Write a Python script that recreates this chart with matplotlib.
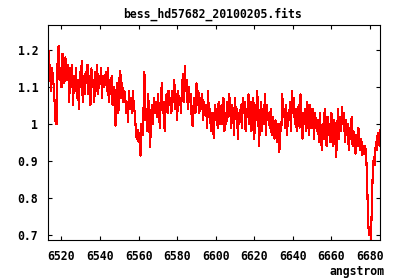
import numpy as np
import matplotlib
matplotlib.use("Agg")
import matplotlib.pyplot as plt

# spectrum as in the fits header: start wavelength + step, flux values
crval1 = 6513.0
cdelt1 = 0.5
flux = [
    # 6513 - 6522.5
    1.25, 1.14, 1.16, 1.09, 1.15, 1.13, 1.10, 1.05, 1.00, 1.00,
    1.18, 1.21, 1.12, 1.15, 1.10, 1.19, 1.17, 1.11, 1.18, 1.14,
    # 6523 - 6532.5
    1.12, 1.16, 1.06, 1.15, 1.10, 1.16, 1.05, 1.13, 1.09, 1.15,
    1.07, 1.12, 1.04, 1.14, 1.10, 1.17, 1.06, 1.13, 1.08, 1.14,
    # 6533 - 6542.5
    1.11, 1.16, 1.08, 1.13, 1.05, 1.15, 1.10, 1.12, 1.06, 1.14,
    1.09, 1.16, 1.08, 1.13, 1.11, 1.15, 1.07, 1.13, 1.10, 1.12,
    # 6543 - 6552.5
    1.14, 1.09, 1.15, 1.06, 1.12, 1.08, 1.13, 1.05, 1.10, 1.07,
    0.995, 1.09, 1.11, 1.03, 1.12, 1.144, 1.07, 1.11, 1.06, 1.09,
    # 6553 - 6562.5
    1.08, 1.03, 1.06, 1.004, 1.09, 1.04, 1.07, 1.03, 1.09, 1.05,
    1.03, 0.99, 0.96, 0.985, 0.95, 0.975, 0.914, 1.00, 0.97, 1.03,
    # 6563 - 6572.5
    1.14, 1.01, 1.04, 0.98, 1.08, 1.00, 0.937, 1.03, 1.05, 1.00,
    1.07, 1.03, 1.06, 1.02, 1.08, 1.04, 0.99, 1.06, 1.11, 1.03,
    # 6573 - 6582.5
    1.06, 0.98, 1.05, 1.08, 1.03, 1.09, 1.05, 1.07, 1.03, 1.09,
    1.06, 1.12, 1.04, 1.08, 1.01, 1.09, 1.05, 1.07, 1.03, 1.10,
    # 6583 - 6592.5
    1.135, 1.06, 1.157, 1.09, 1.12, 1.04, 1.10, 1.06, 1.08, 1.02,
    0.995, 1.05, 1.07, 1.03, 1.11, 1.05, 1.09, 1.03, 1.07, 1.04,
    # 6593 - 6602.5
    1.08, 1.01, 1.06, 1.03, 1.05, 0.99, 1.09, 1.02, 1.04, 0.98,
    1.03, 1.00, 0.963, 1.05, 1.01, 1.04, 0.99, 1.06, 1.00, 1.03,
    # 6603 - 6612.5
    1.05, 1.00, 1.07, 0.98, 1.03, 1.00, 1.06, 1.02, 1.08, 1.04,
    0.99, 1.05, 1.03, 0.97, 1.07, 1.02, 1.04, 0.96, 1.03, 1.01,
    # 6613 - 6622.5
    1.05, 0.99, 1.07, 1.03, 1.06, 0.98, 1.04, 1.02, 1.08, 1.00,
    1.06, 0.98, 1.03, 1.07, 0.96, 1.05, 1.01, 1.09, 1.03, 0.94,
    # 6623 - 6632.5
    1.02, 1.06, 0.98, 1.04, 1.00, 1.08, 0.97, 1.05, 1.01, 1.03,
    0.99, 1.04, 0.97, 1.02, 0.99, 0.96, 1.01, 0.98, 0.95, 1.00,
    # 6633 - 6642.5
    0.923, 1.00, 0.98, 1.08, 1.02, 1.04, 0.99, 1.05, 0.97, 1.03,
    1.01, 1.06, 0.98, 1.09, 1.03, 1.07, 1.00, 1.04, 0.98, 1.02,
    # 6643 - 6652.5
    1.05, 0.99, 1.08, 1.01, 0.96, 1.03, 1.00, 1.04, 0.98, 1.06,
    1.01, 0.97, 1.05, 1.02, 0.99, 1.04, 0.96, 1.03, 1.00, 0.98,
    # 6653 - 6662.5
    1.01, 0.95, 1.03, 0.98, 0.93, 1.00, 0.96, 1.04, 0.99, 0.94,
    1.02, 0.97, 1.00, 0.95, 1.03, 0.98, 0.94, 1.01, 0.96, 0.91,
    # 6663 - 6672.5
    0.99, 1.04, 0.96, 1.02, 0.98, 1.045, 1.00, 1.03, 0.95, 1.01,
    0.97, 1.00, 0.93, 0.99, 0.96, 1.02, 0.94, 0.98, 0.96, 0.92,
    # 6673 - 6686.5
    0.97, 0.94, 0.99, 0.95, 0.93, 0.96, 0.915, 0.94, 0.92, 0.94,
    0.92, 0.85, 0.74, 0.70, 0.71, 0.69, 0.79, 0.88, 0.91, 0.89,
    0.95, 0.93, 0.975, 0.96, 0.94, 0.985, 0.95, 0.93,
]

title = "bess_hd57682_20100205.fits"
xlabel = "angstrom"
xticks = [6520, 6540, 6560, 6580, 6600, 6620, 6640, 6660, 6680]
yticks = [0.7, 0.8, 0.9, 1.0, 1.1, 1.2]
yticklabels = ["0.7", "0.8", "0.9", "1", "1.1", "1.2"]

wave = crval1 + cdelt1 * np.arange(len(flux))

plt.rcParams['font.family'] = 'DejaVu Sans Mono'
plt.rcParams['font.weight'] = 'bold'
plt.rcParams['font.size'] = 8.3

fig = plt.figure(figsize=(4, 2.8), dpi=100)
ax = fig.add_axes([0.12, 0.1429, 0.83, 0.768])
ax.plot(wave, flux, color='#ff0000', lw=0.8, antialiased=False)

ax.set_xlim(6513, 6685.2)
ax.set_ylim(0.6865, 1.2676)
ax.set_xticks(xticks)
ax.set_yticks(yticks)
ax.set_yticklabels(yticklabels)
ax.tick_params(direction='in', length=3, width=0.8, top=True, right=True,
               labelsize=8.3, pad=7)
for s in ax.spines.values():
    s.set_linewidth(0.8)

fig.text(0.53, 0.95, title, ha='center', va='center', fontsize=8.3, fontweight='bold')
fig.text(0.96, 0.032, xlabel, ha='right', va='center', fontsize=8.3, fontweight='bold')

fig.savefig("out.png", dpi=100)
